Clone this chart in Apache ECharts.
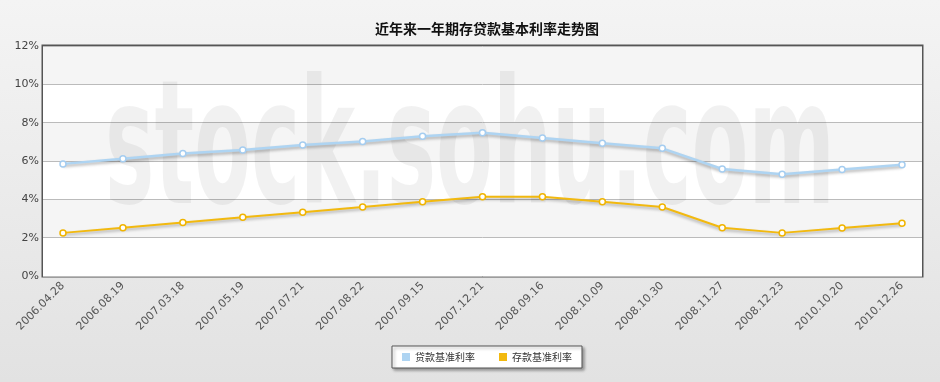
<!DOCTYPE html>
<html><head><meta charset="utf-8">
<script src="https://cdn.jsdelivr.net/npm/echarts@6/dist/echarts.min.js"></script>
<style>html,body{margin:0;padding:0;}#c{width:940px;height:382px;background:linear-gradient(#f4f4f4,#e2e2e2);}</style>
</head><body><div id="c"></div>
<script>
const categories = ['2006.04.28','2006.08.19','2007.03.18','2007.05.19','2007.07.21','2007.08.22','2007.09.15','2007.12.21','2008.09.16','2008.10.09','2008.10.30','2008.11.27','2008.12.23','2010.10.20','2010.12.26'];
const loanRates = [5.85,6.12,6.39,6.57,6.84,7.02,7.29,7.47,7.20,6.93,6.66,5.58,5.31,5.56,5.81];
const depositRates = [2.25,2.52,2.79,3.06,3.33,3.60,3.87,4.14,4.14,3.87,3.60,2.52,2.25,2.50,2.75];
const yTicks = [0,2,4,6,8,10,12];

const chart = echarts.init(document.getElementById('c'));
const lineShadow = {shadowColor:'rgba(0,0,0,0.3)',shadowBlur:3,shadowOffsetY:2};
chart.setOption({
  animation:false,
  title:{text:'近年来一年期存贷款基本利率走势图',left:482,textAlign:'center',top:17,textStyle:{fontSize:14,fontWeight:'bold',color:'#111',fontFamily:'Noto Sans CJK SC'}},
  graphic:[{type:'text',x:470,y:158,scaleX:0.74,scaleY:1.55,z:1,
    style:{text:'stock.sohu.com',align:'center',verticalAlign:'middle',fontSize:112,fontWeight:'bold',fontFamily:'DejaVu Sans',fill:'rgba(0,0,0,0.055)'}}],
  legend:{data:[{name:'贷款基准利率',itemStyle:{color:'#aed4f2',borderWidth:0}},{name:'存款基准利率',itemStyle:{color:'#f2b90f',borderWidth:0}}],
    left:392,top:346,padding:[6,10],itemWidth:8,itemHeight:8,itemGap:24,icon:'rect',
    backgroundColor:'#fff',borderColor:'#555',borderWidth:1,shadowColor:'rgba(0,0,0,0.35)',shadowBlur:3,shadowOffsetX:2,shadowOffsetY:2,
    textStyle:{fontSize:10,color:'#333',fontFamily:'Noto Sans CJK SC'}},
  grid:[
    {left:43,right:18,top:46,bottom:106,show:true,borderColor:'#555',borderWidth:3,z:0,backgroundColor:'#fff'},
    {left:63,right:38,top:46,bottom:106}
  ],
  xAxis:[
    {gridIndex:0,type:'value',min:0,max:1,show:false},
    {gridIndex:1,type:'category',data:categories,boundaryGap:false,
     axisLine:{show:false},axisTick:{show:false},
     axisLabel:{rotate:45,fontSize:11,color:'#555',margin:8,fontFamily:'DejaVu Sans'}}
  ],
  yAxis:[
    {gridIndex:0,type:'value',min:yTicks[0],max:yTicks[yTicks.length-1],interval:2,
     axisLine:{show:false},axisTick:{show:false},
     axisLabel:{formatter:'{value}%',fontSize:11,color:'#444',margin:4,fontFamily:'DejaVu Sans'},
     splitArea:{show:true,areaStyle:{color:['#ffffff','#f5f5f5']}},
     splitLine:{lineStyle:{color:'#bbbbbb',width:1}}},
    {gridIndex:1,type:'value',min:0,max:12,show:false,splitLine:{show:false}}
  ],
  series:[
    {name:'贷款基准利率',type:'line',xAxisIndex:1,yAxisIndex:1,data:loanRates,z:3,
     symbol:'circle',symbolSize:6,color:'#aed4f2',
     lineStyle:Object.assign({width:2.5,color:'#aed4f2'},lineShadow),
     itemStyle:{color:'#fff',borderColor:'#a5cdf0',borderWidth:1.5}},
    {name:'存款基准利率',type:'line',xAxisIndex:1,yAxisIndex:1,data:depositRates,z:3,
     symbol:'circle',symbolSize:6,color:'#f2b90f',
     lineStyle:Object.assign({width:2,color:'#f2b90f'},lineShadow),
     itemStyle:{color:'#fff',borderColor:'#f0b400',borderWidth:1.5}}
  ]
});
</script></body></html>
